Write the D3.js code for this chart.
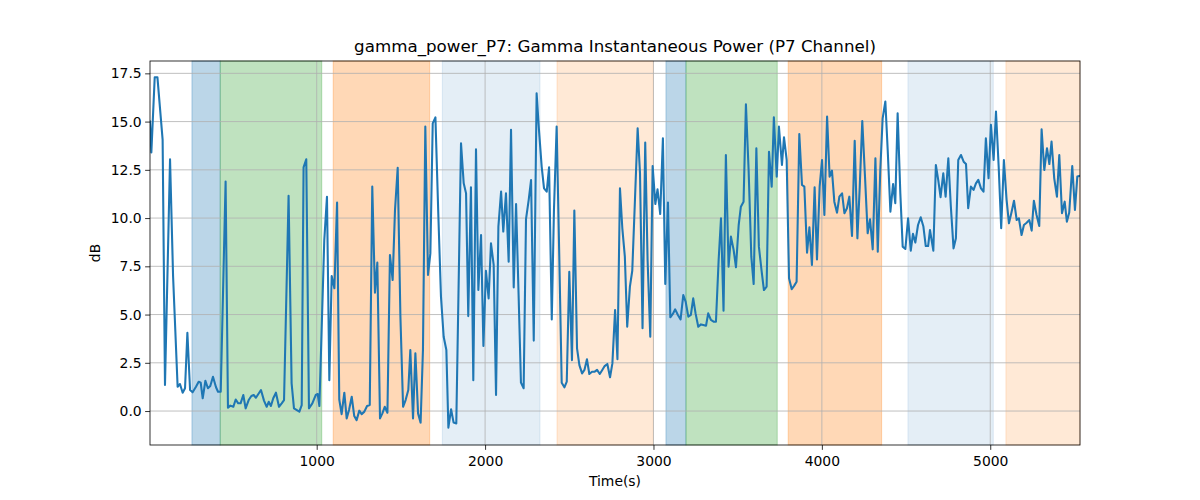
<!DOCTYPE html>
<html><head><meta charset="utf-8">
<script src="https://cdn.jsdelivr.net/npm/d3@7"></script>
<style>body{margin:0;background:#fff}svg{display:block}text{font-family:"DejaVu Sans",sans-serif;fill:#000}</style>
</head><body>
<svg id="c" width="1200" height="500"></svg>
<script>
const times = [10,18,38,54,85,99,129,147,174,188,204,218,232,248,263,283,299,311,323,339,354,368,384,402,414,430,459,473,487,505,519,534,548,564,578,596,612,626,639,669,687,703,715,728,742,758,776,792,806,833,851,865,897,911,922,938,954,974,994,1006,1016,1045,1061,1075,1089,1105,1121,1134,1148,1164,1178,1192,1208,1223,1237,1253,1267,1283,1299,1315,1330,1346,1360,1376,1390,1404,1420,1435,1451,1465,1481,1497,1513,1528,1544,1556,1572,1586,1602,1617,1631,1645,1661,1675,1689,1705,1722,1738,1754,1770,1782,1798,1813,1829,1857,1873,1887,1900,1916,1930,1946,1960,1976,1990,2005,2021,2035,2051,2065,2079,2095,2108,2124,2140,2154,2170,2184,2199,2213,2229,2243,2259,2273,2289,2306,2320,2336,2350,2366,2380,2396,2409,2425,2441,2455,2471,2485,2500,2516,2530,2546,2560,2576,2590,2605,2619,2635,2651,2665,2681,2696,2710,2726,2742,2756,2772,2786,2801,2815,2830,2844,2860,2874,2890,2906,2920,2935,2951,2965,2981,2995,3011,3024,3040,3056,3070,3086,3100,3115,3129,3145,3161,3177,3191,3207,3222,3236,3250,3266,3282,3296,3312,3325,3341,3357,3371,3387,3401,3416,3430,3446,3460,3476,3490,3506,3519,3535,3549,3565,3581,3595,3611,3626,3642,3656,3672,3686,3702,3715,3732,3745,3763,3775,3791,3805,3821,3836,3850,3866,3882,3896,3912,3926,3941,3957,3971,3987,4001,4015,4031,4046,4060,4074,4090,4104,4120,4134,4149,4163,4179,4195,4211,4225,4240,4256,4272,4286,4302,4318,4332,4347,4361,4377,4391,4407,4423,4436,4450,4466,4480,4496,4512,4528,4541,4555,4571,4587,4603,4617,4631,4642,4662,4677,4691,4705,4721,4735,4751,4766,4782,4796,4810,4826,4842,4856,4869,4885,4901,4915,4929,4945,4960,4974,4990,5004,5020,5034,5050,5065,5081,5097,5111,5127,5141,5157,5170,5186,5200,5216,5232,5246,5259,5275,5291,5305,5321,5337,5351,5364,5380,5396,5410,5426,5442,5455,5469,5487,5503,5517,5531];
const power = [15.0,13.4,17.3,17.3,14.05,1.35,13.05,7.0,1.26,1.4,0.95,1.18,4.06,1.09,0.97,1.26,1.52,1.47,0.66,1.57,1.18,1.3,1.78,1.23,1.0,1.0,11.89,0.17,0.28,0.22,0.6,0.4,0.4,0.83,0.14,0.57,0.78,0.83,0.69,1.09,0.54,0.22,0.48,0.26,0.66,0.95,0.22,0.4,0.57,11.15,1.43,0.14,-0.03,0.31,12.63,13.05,0.14,0.4,0.83,0.88,0.26,8.86,11.1,1.6,7.0,6.36,10.8,0.6,-0.16,0.95,-0.38,0.05,0.74,-0.26,-0.47,0.02,-0.16,-0.03,0.26,0.31,11.63,6.13,7.69,-0.38,-0.12,0.22,-0.09,8.09,6.79,10.42,12.61,4.92,0.22,0.57,1.09,3.16,-0.38,2.99,-0.12,-0.6,3.16,14.74,7.05,8.17,14.91,15.22,10.25,5.93,3.85,3.16,-0.86,0.09,-0.6,-0.64,13.88,11.8,11.28,4.92,11.6,1.6,13.56,6.27,9.12,3.37,7.27,5.84,8.69,7.57,0.83,9.56,11.37,9.3,11.28,7.74,14.57,6.41,10.73,6.01,1.47,1.18,9.94,10.94,11.97,3.65,16.47,14.57,12.67,11.54,11.37,12.63,4.75,10.42,14.74,7.83,1.47,1.23,1.52,7.22,2.64,10.39,3.25,2.38,1.95,2.13,2.68,1.92,2.04,2.04,2.13,1.92,2.13,2.33,2.44,1.75,2.47,5.24,2.68,11.54,9.47,8.0,4.37,6.45,7.27,10.94,14.65,12.32,4.29,13.91,7.83,3.85,12.7,10.73,11.49,10.21,14.13,6.58,10.8,4.86,5.03,5.27,4.98,4.75,6.01,5.67,4.89,4.98,5.84,5.06,4.37,4.49,4.46,4.42,5.06,4.72,4.63,4.63,7.83,9.99,5.2,13.27,7.48,9.04,8.35,7.45,9.64,10.59,10.85,15.9,12.49,8.0,6.58,13.62,8.52,7.27,6.27,6.45,13.44,11.63,15.22,12.15,14.74,12.75,14.19,13.01,6.88,6.31,6.5,6.7,14.36,11.72,11.63,8.21,9.52,7.57,11.6,7.86,11.66,13.01,10.16,15.26,12.15,12.46,10.85,10.28,11.11,11.28,10.25,10.51,11.11,9.07,14.01,8.95,11.63,15.03,12.18,9.21,9.94,8.38,13.1,8.26,12.49,15.17,16.04,13.53,10.33,11.77,10.77,15.43,11.28,8.52,8.4,9.99,8.31,9.18,8.73,9.64,10.04,9.56,8.55,8.55,9.38,8.31,12.75,11.98,11.08,12.32,11.11,13.1,10.6,8.43,8.95,13.01,13.27,12.92,12.8,10.51,11.63,11.46,11.8,11.98,11.54,11.37,14.13,12.06,14.83,13.01,15.52,12.67,9.47,13.01,10.94,9.73,10.33,10.9,9.9,9.99,9.12,9.64,9.76,9.9,9.35,10.9,10.16,9.59,14.6,12.49,13.62,12.8,13.96,12.06,11.11,13.27,10.25,10.85,9.81,10.29,12.7,10.42,12.15,12.18];

const spanStart = [259,427,1098,1746,2427,3074,3193,3800,4511,5093];
const spanEnd   = [427,1030,1671,2326,2999,3193,3735,4355,5018,5533];
const spanColor = ["#1f77b4","#2ca02c","#ff7f0e","#1f77b4","#ff7f0e","#1f77b4","#2ca02c","#ff7f0e","#1f77b4","#ff7f0e"];
const spanAlpha = [0.3,0.3,0.3,0.12,0.17,0.3,0.3,0.3,0.12,0.17];

const xTicks = [1000,2000,3000,4000,5000];
const yTicks = [0,2.5,5,7.5,10,12.5,15,17.5];
const title = "gamma_power_P7: Gamma Instantaneous Power (P7 Channel)";
const xLabel = "Time(s)";
const yLabel = "dB";

const L = 150, R = 1080, T = 61, B = 445;
const svg = d3.select("#c");
const x = d3.scaleLinear().domain([10, 5533]).range([L, R]);
const y = d3.scaleLinear().domain([-1.76, 18.14]).range([B, T]);

const g = svg.append("g");
g.append("clipPath").attr("id","clip").append("rect").attr("x",L).attr("y",T).attr("width",R-L).attr("height",B-T);

// spans
const spans = d3.range(spanStart.length).map(i => ({s: spanStart[i], e: spanEnd[i], c: spanColor[i], a: spanAlpha[i]}));
g.append("g").selectAll("rect").data(spans).join("rect")
  .attr("x", d => x(d.s)).attr("width", d => x(d.e) - x(d.s))
  .attr("y", T).attr("height", B - T)
  .attr("fill", d => d.c).attr("fill-opacity", d => d.a)
  .attr("stroke", d => d.c).attr("stroke-opacity", d => d.a).attr("stroke-width", 1);

// grid
g.append("g").selectAll("line").data(xTicks).join("line")
  .attr("x1", d => x(d)).attr("x2", d => x(d)).attr("y1", T).attr("y2", B)
  .attr("stroke", "#b0b0b0").attr("stroke-width", 0.8);
g.append("g").selectAll("line").data(yTicks).join("line")
  .attr("y1", d => y(d)).attr("y2", d => y(d)).attr("x1", L).attr("x2", R)
  .attr("stroke", "#b0b0b0").attr("stroke-width", 0.8);

// line
const pts = times.map((t, i) => [t, power[i]]);
g.append("path").datum(pts)
  .attr("clip-path","url(#clip)")
  .attr("fill", "none").attr("stroke", "#1f77b4").attr("stroke-width", 2.08)
  .attr("stroke-linejoin","round").attr("stroke-linecap","square")
  .attr("d", d3.line().x(d => x(d[0])).y(d => y(d[1])));

// axes
const xAxis = d3.axisBottom(x).tickValues(xTicks).tickSize(4.86).tickPadding(3.5).tickFormat(d3.format("d"));
const yAxis = d3.axisLeft(y).tickValues(yTicks).tickSize(4.86).tickPadding(3.5).tickFormat(d3.format(".1f"));
const gx = svg.append("g").attr("transform", `translate(0,${B})`).call(xAxis);
const gy = svg.append("g").attr("transform", `translate(${L},0)`).call(yAxis);
[gx, gy].forEach(a => {
  a.select(".domain").remove();
  a.selectAll(".tick line").attr("stroke", "#000").attr("stroke-width", 0.8);
  a.selectAll(".tick text").attr("font-family", "DejaVu Sans").attr("font-size", "13.9px").attr("fill", "#000");
});
gx.selectAll(".tick text").attr("dy", "0.9em");

// spines
svg.append("rect").attr("x", L).attr("y", T).attr("width", R - L).attr("height", B - T)
  .attr("fill", "none").attr("stroke", "#000").attr("stroke-width", 0.8);

// labels
svg.append("text").attr("x", (L + R) / 2).attr("y", 52).attr("text-anchor", "middle")
  .attr("font-size", "16.7px").text(title);
svg.append("text").attr("x", (L + R) / 2).attr("y", 486).attr("text-anchor", "middle")
  .attr("font-size", "13.9px").text(xLabel);
svg.append("text").attr("transform", `translate(100,${(T + B) / 2}) rotate(-90)`).attr("text-anchor", "middle")
  .attr("font-size", "13.9px").text(yLabel);
</script>
</body></html>
